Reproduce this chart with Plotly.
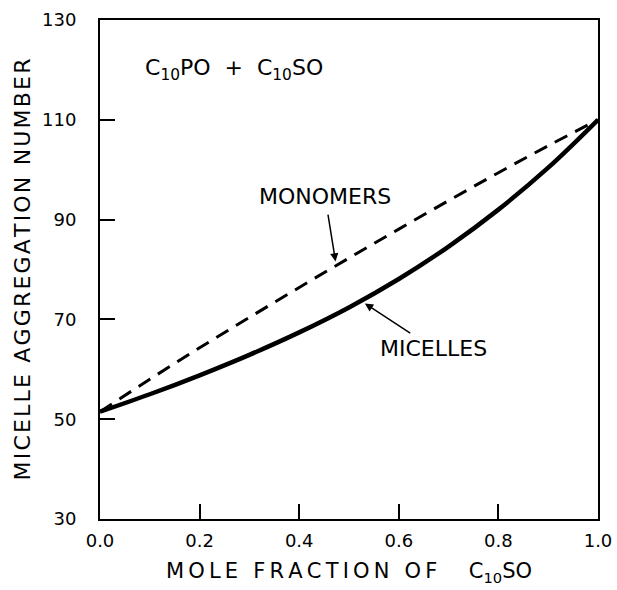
import plotly.graph_objects as go

x_frac = [0.0, 0.1, 0.2, 0.3, 0.4, 0.5, 0.6, 0.7, 0.8, 0.9, 1.0]
micelles = [51.5, 55.0, 58.8, 62.9, 67.4, 72.4, 78.1, 84.6, 92.0, 100.4, 110.0]
monomers = [51.5, 58.0, 64.3, 70.4, 76.4, 82.3, 88.1, 93.8, 99.4, 104.8, 110.0]
x_ticks = [0.0, 0.2, 0.4, 0.6, 0.8, 1.0]
y_ticks = [30, 50, 70, 90, 110, 130]

FONT = "DejaVu Sans"

fig = go.Figure()
fig.add_trace(go.Scatter(x=x_frac, y=monomers, mode="lines", line_shape="spline",
                         line=dict(color="black", width=3, dash="14px,9px"),
                         name="Monomers", showlegend=False))
fig.add_trace(go.Scatter(x=x_frac, y=micelles, mode="lines", line_shape="spline",
                         line=dict(color="black", width=4.5),
                         name="Micelles", showlegend=False))

def spaced(s, sep="\u200a"):
    return sep.join(list(s))

fig.add_annotation(x=0.473, y=81.6, ax=0.452, ay=94.6, axref="x", ayref="y",
                   xref="x", yref="y", text="MONOMERS", showarrow=True,
                   arrowhead=2, arrowsize=1.1, arrowwidth=1.5, arrowcolor="black",
                   standoff=0, startstandoff=4,
                   font=dict(family=FONT, size=22, color="black"))
fig.add_annotation(x=0.532, y=73.2, ax=0.669, ay=64.2, axref="x", ayref="y",
                   xref="x", yref="y", text="MICELLES", showarrow=True,
                   arrowhead=2, arrowsize=1.1, arrowwidth=1.5, arrowcolor="black",
                   standoff=0, startstandoff=2,
                   font=dict(family=FONT, size=22, color="black"))
fig.add_annotation(x=0.27, y=120.0, xref="x", yref="y",
                   text="C<sub>10</sub>PO  +  C<sub>10</sub>SO",
                   showarrow=False, font=dict(family=FONT, size=22, color="black"))

fig.update_layout(
    width=617, height=590,
    margin=dict(l=100, r=19, t=20, b=71),
    paper_bgcolor="white", plot_bgcolor="white",
    font=dict(family=FONT, color="black", size=18),
)
fig.update_xaxes(range=[0, 1], tickvals=x_ticks,
                 ticktext=[f"{v:.1f}" for v in x_ticks],
                 ticks="inside", ticklen=15, tickwidth=2, tickcolor="black",
                 showline=True, linewidth=2, linecolor="black", mirror=True,
                 showgrid=False, zeroline=False, automargin=False,
                 tickfont=dict(family=FONT, size=18), ticklabelstandoff=4,
                 title=dict(text=spaced("MOLE FRACTION OF", "\u2009") + "\u2003\u2002C<sub>10</sub>SO",
                            font=dict(family=FONT, size=21), standoff=14))
fig.update_yaxes(range=[30, 130], tickvals=y_ticks,
                 ticks="inside", ticklen=15, tickwidth=2, tickcolor="black",
                 showline=True, linewidth=2, linecolor="black", mirror=True,
                 showgrid=False, zeroline=False, automargin=False,
                 tickfont=dict(family=FONT, size=18), ticklabelstandoff=18,
                 title=dict(text=spaced("MICELLE AGGREGATION NUMBER"),
                            font=dict(family=FONT, size=22), standoff=5))

fig.write_html("out.html")
